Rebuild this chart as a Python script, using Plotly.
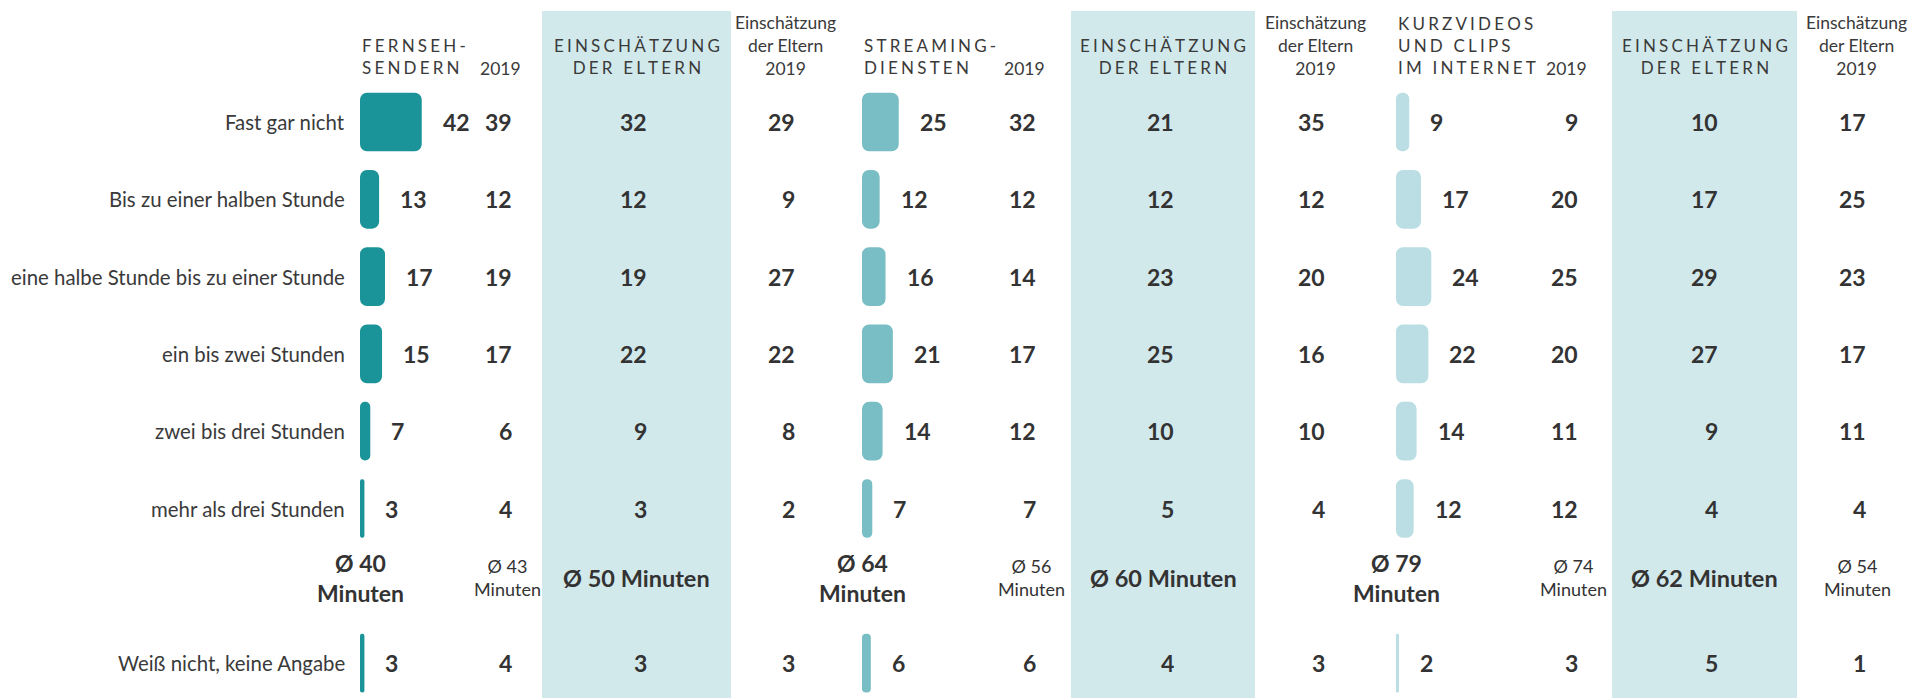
import plotly.graph_objects as go

W, H = 1910, 698

# ---------------- data ----------------
categories = ["Fast gar nicht", "Bis zu einer halben Stunde",
              "eine halbe Stunde bis zu einer Stunde", "ein bis zwei Stunden",
              "zwei bis drei Stunden", "mehr als drei Stunden",
              "Weiß nicht, keine Angabe"]
row_pos = [0, 1, 2, 3, 4, 5, 7]      # row 6 holds the averages
mean_row = 6

tv = [42, 13, 17, 15, 7, 3, 3]
tv_2019 = [39, 12, 19, 17, 6, 4, 4]
tv_parents = [32, 12, 19, 22, 9, 3, 3]
tv_parents_2019 = [29, 9, 27, 22, 8, 2, 3]

streaming = [25, 12, 16, 21, 14, 7, 6]
streaming_2019 = [32, 12, 14, 17, 12, 7, 6]
streaming_parents = [21, 12, 23, 25, 10, 5, 4]
streaming_parents_2019 = [35, 12, 20, 16, 10, 4, 3]

clips = [9, 17, 24, 22, 14, 12, 2]
clips_2019 = [9, 20, 25, 20, 11, 12, 3]
clips_parents = [10, 17, 29, 27, 9, 4, 5]
clips_parents_2019 = [17, 25, 23, 17, 11, 4, 1]

mean_minutes = [40, 64, 79]
mean_minutes_2019 = [43, 56, 74]
mean_minutes_parents = [50, 60, 62]
mean_minutes_parents_2019 = [None, None, 54]

group_titles = ["FERNSEH-<br>SENDERN", "STREAMING-<br>DIENSTEN",
                "KURZVIDEOS<br>UND CLIPS<br>IM INTERNET"]
parents_title = "EINSCHÄTZUNG<br>DER ELTERN"
year_title = "2019"
parents_year_title = "Einschätzung<br>der Eltern<br>2019"

# ---------------- styling / layout ----------------
FONT = "Lato"
TXT = "#333333"
HDR = "#3a3a3a"
bar_colors = ["#1b9499", "#79bec4", "#badee3"]
band_color = "#d2e9ec"
PX_PER_UNIT = 1.47
bar_start = [360, 862, 1396]        # px, left edge of bars
col_2019_right = [514, 1038, 1580]
band_x = [(542, 731), (1071, 1255), (1612, 1797)]
col_par_right = [649, 1176, 1720]
col_par19_right = [797, 1327, 1868]

groups = [
    (tv, tv_2019, tv_parents, tv_parents_2019),
    (streaming, streaming_2019, streaming_parents, streaming_parents_2019),
    (clips, clips_2019, clips_parents, clips_parents_2019),
]

ROW_PX = 77.3
TOP_ROW_PX = 122
y_top = -TOP_ROW_PX / ROW_PX
y_bottom = y_top + H / ROW_PX

SEP = "\u2009\u200a"


def spaced(s):
    return "<br>".join(SEP.join(line) for line in s.split("<br>"))


def ppx(px):
    return 1 - px / H


fig = go.Figure()
annotations = []
shapes = []

for i, (main, y19, par, par19) in enumerate(groups):
    xa = "x" if i == 0 else f"x{i+1}"
    fig.add_trace(go.Bar(
        x=main, y=row_pos, base=0, orientation="h", width=0.76,
        marker=dict(color=bar_colors[i], cornerradius=7, line=dict(width=0)),
        xaxis=xa, yaxis="y", hoverinfo="skip", showlegend=False))
    # value labels next to the bars
    for v, r in zip(main, row_pos):
        annotations.append(dict(x=v, y=r, xref=xa, yref="y", text=str(v),
                                xanchor="left", yanchor="middle", xshift=19,
                                showarrow=False,
                                font=dict(family=FONT, size=23, color=TXT, weight=700)))
    for vals, right in ((y19, col_2019_right[i]), (par, col_par_right[i]),
                        (par19, col_par19_right[i])):
        for v, r in zip(vals, row_pos):
            annotations.append(dict(x=right / W, y=r, xref="paper", yref="y",
                                    text=str(v), xanchor="right", yanchor="middle",
                                    showarrow=False,
                                    font=dict(family=FONT, size=23, color=TXT, weight=700)))
    # band
    shapes.append(dict(type="rect", xref="paper", yref="paper",
                       x0=band_x[i][0] / W, x1=band_x[i][1] / W,
                       y0=0, y1=ppx(11), fillcolor=band_color,
                       line=dict(width=0), layer="below"))
    # headers
    nlines = group_titles[i].count("<br>") + 1
    annotations.append(dict(x=bar_start[i] / W, y=ppx(57 if nlines == 2 else 46),
                            xref="paper", yref="paper", text=spaced(group_titles[i]),
                            xanchor="left", yanchor="middle", align="left",
                            showarrow=False,
                            font=dict(family=FONT, size=17, color=HDR)))
    annotations.append(dict(x=(col_2019_right[i] - 14) / W, y=ppx(68),
                            xref="paper", yref="paper", text=year_title,
                            xanchor="center", yanchor="middle", showarrow=False,
                            font=dict(family=FONT, size=17.5, color=HDR)))
    annotations.append(dict(x=(band_x[i][0] + band_x[i][1]) / 2 / W, y=ppx(57),
                            xref="paper", yref="paper", text=spaced(parents_title),
                            xanchor="center", yanchor="middle", align="center",
                            showarrow=False,
                            font=dict(family=FONT, size=17, color=HDR)))
    annotations.append(dict(x=(col_par19_right[i] - 12) / W, y=ppx(46),
                            xref="paper", yref="paper", text=parents_year_title,
                            xanchor="center", yanchor="middle", align="center",
                            showarrow=False,
                            font=dict(family=FONT, size=17.5, color=HDR)))
    # averages
    annotations.append(dict(x=0, y=mean_row, xref=xa, yref="y",
                            text=f"Ø {mean_minutes[i]}<br>Minuten", yshift=8,
                            xanchor="center", yanchor="middle", align="center",
                            showarrow=False,
                            font=dict(family=FONT, size=23, color=TXT, weight=700)))
    annotations.append(dict(x=(col_2019_right[i] - 7) / W, y=mean_row, xref="paper", yref="y",
                            text=f"Ø {mean_minutes_2019[i]}<br>Minuten", yshift=8,
                            xanchor="center", yanchor="middle", align="center",
                            showarrow=False,
                            font=dict(family=FONT, size=18, color=TXT)))
    annotations.append(dict(x=(band_x[i][0] + band_x[i][1]) / 2 / W, y=mean_row,
                            xref="paper", yref="y", yshift=8,
                            text=f"Ø {mean_minutes_parents[i]} Minuten",
                            xanchor="center", yanchor="middle", showarrow=False,
                            font=dict(family=FONT, size=23.5, color=TXT, weight=700)))
    if mean_minutes_parents_2019[i] is not None:
        annotations.append(dict(x=(col_par19_right[i] - 11) / W, y=mean_row,
                                xref="paper", yref="y", yshift=8,
                                text=f"Ø {mean_minutes_parents_2019[i]}<br>Minuten",
                                xanchor="center", yanchor="middle", align="center",
                                showarrow=False,
                                font=dict(family=FONT, size=18, color=TXT)))

# category labels
for c, r in zip(categories, row_pos):
    annotations.append(dict(x=347 / W, y=r, xref="paper", yref="y", text=c,
                            xanchor="right", yanchor="middle", showarrow=False,
                            font=dict(family=FONT, size=20.4, color=HDR)))

axis_common = dict(visible=False, fixedrange=True, range=[0, 100 / PX_PER_UNIT])
fig.update_layout(
    width=W, height=H,
    margin=dict(l=0, r=0, t=0, b=0),
    paper_bgcolor="white", plot_bgcolor="rgba(0,0,0,0)",
    barmode="overlay",
    xaxis=dict(domain=[bar_start[0] / W, (bar_start[0] + 100) / W], anchor="y", **axis_common),
    xaxis2=dict(domain=[bar_start[1] / W, (bar_start[1] + 100) / W], anchor="y", **axis_common),
    xaxis3=dict(domain=[bar_start[2] / W, (bar_start[2] + 100) / W], anchor="y", **axis_common),
    yaxis=dict(visible=False, fixedrange=True, range=[y_bottom, y_top]),
    annotations=annotations,
    shapes=shapes,
    showlegend=False,
)

fig.write_html(
    "out.html",
    config={"displayModeBar": False},
    post_script="document.body.style.margin='0';document.body.style.overflow='hidden';",
)
